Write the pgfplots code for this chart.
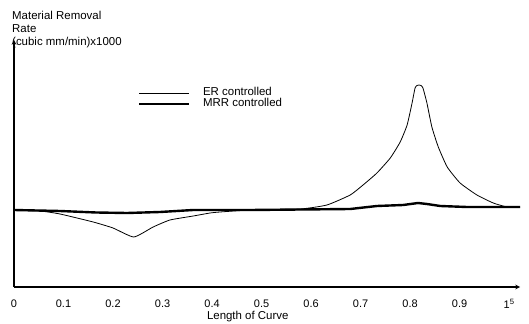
\documentclass[border=0pt]{standalone}
\usepackage{pgfplots}
\pgfplotsset{compat=1.18}
\usepackage{fontspec}
\setmainfont{Liberation Sans}
\begin{document}
\begin{tikzpicture}
\path[use as bounding box] (-14bp,-37bp) rectangle (515bp,287bp);
\begin{axis}[
  at={(0bp,0bp)}, anchor=south west,
  scale only axis, width=506bp, height=247bp,
  xmin=0, xmax=1.022, ymin=-7.8, ymax=16.9,
  axis lines=left,
  axis line style={line width=1.1bp, -stealth},
  ytick=\empty,
  xtick={0,0.1,0.2,0.3,0.4,0.5,0.6,0.7,0.8,0.9,1},
  xticklabels={0,0.1,0.2,0.3,0.4,0.5,0.6,0.7,0.8,0.9,1\textsuperscript{5}},
  major tick length=0pt,
  /pgf/number format/assume math mode=true,
  tick label style={font=\fontsize{11}{12}\selectfont},
  xticklabel style={yshift=-9bp},
  xlabel={Length of Curve},
  xlabel style={at={(axis description cs:0.462,0)}, anchor=center, yshift=-30bp, font=\fontsize{11.5}{12}\selectfont},
  title={Material Removal\\Rate\\(cubic mm/min)x1000},
  title style={at={(axis description cs:0,1)}, anchor=north west, align=left, inner sep=0pt, xshift=-2bp, yshift=23bp, font=\fontsize{11.5}{12.8}\selectfont},
  legend style={draw=none, fill=none, inner sep=0pt, at={(axis description cs:0.245,0.808)}, anchor=north west,
    font=\fontsize{11.5}{12}\selectfont,
    nodes={inner sep=0.5bp, text height=7.5bp, text depth=2.5bp},
    /tikz/every odd column/.append style={column sep=12bp}},
  legend cell align=left,
  legend image code/.code={\draw[#1] (0bp,0bp) -- (50bp,0bp);},
]
\addplot[black, line width=0.8bp, smooth, tension=0.3] coordinates {
(0,-0.1) (0.053,-0.2) (0.093,-0.5) (0.160,-1.3) (0.200,-1.9) (0.242,-2.8)
(0.281,-1.8) (0.315,-1.1) (0.362,-0.7) (0.396,-0.4) (0.416,-0.3) (0.477,-0.1)
(0.578,0.0) (0.632,0.4) (0.679,1.4) (0.705,2.4) (0.733,3.6) (0.760,5.1)
(0.780,6.7) (0.794,8.4) (0.804,10.6) (0.810,12.1) (0.814,12.35) (0.818,12.4)
(0.822,12.35) (0.826,12.1) (0.834,10.6) (0.844,8.2) (0.857,6.2) (0.875,4.2)
(0.901,2.6) (0.935,1.4) (0.968,0.6) (0.996,0.2) (1.022,0.2)
};
\addlegendentry{ER controlled}
\addplot[black, line width=2.4bp] coordinates {
(0,-0.1) (0.093,-0.2) (0.166,-0.35) (0.228,-0.4) (0.295,-0.3) (0.362,-0.1)
(0.477,-0.1) (0.679,0.0) (0.733,0.3) (0.786,0.4) (0.816,0.6) (0.834,0.5)
(0.861,0.3) (0.915,0.2) (1.022,0.2)
};
\addlegendentry{MRR controlled}
\end{axis}
\end{tikzpicture}
\end{document}
